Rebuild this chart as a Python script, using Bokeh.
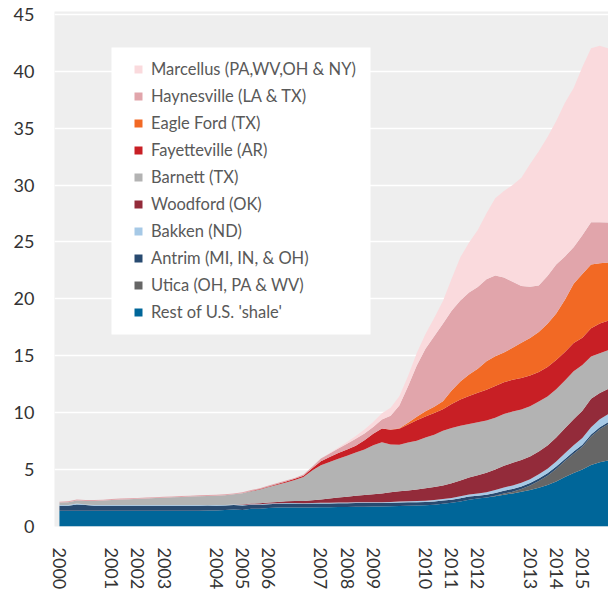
from bokeh.plotting import figure
from bokeh.models import ColumnDataSource, Legend, LegendItem, FixedTicker, Range1d, BoxAnnotation
from bokeh.embed import file_html
from bokeh.resources import INLINE

# x: month index counted from Jan 2000, quarterly samples (Bcf/d)
months = list(range(0, 193, 3))

rest = [1.38, 1.38, 1.38, 1.38, 1.38, 1.38, 1.38, 1.38, 1.38, 1.38, 1.38, 1.38, 1.38, 1.38, 1.38, 1.38,
        1.38, 1.40, 1.40, 1.45, 1.50, 1.45, 1.55, 1.55, 1.62, 1.66, 1.68, 1.68, 1.66, 1.68, 1.70, 1.70,
        1.72, 1.72, 1.74, 1.74, 1.76, 1.76, 1.78, 1.80, 1.82, 1.84, 1.86, 1.92, 2.00, 2.08, 2.20, 2.35,
        2.45, 2.55, 2.65, 2.80, 2.90, 3.05, 3.20, 3.40, 3.65, 3.95, 4.35, 4.70, 5.00, 5.40, 5.65, 5.80, 5.85]
utica = [0.0] * 50 + [0.05, 0.10, 0.15, 0.25, 0.40, 0.60, 0.80, 1.10, 1.40, 1.70, 2.00, 2.50, 2.90, 3.20, 3.30]
antrim = [0.45, 0.45, 0.55, 0.50, 0.45, 0.45, 0.45, 0.45, 0.45, 0.45, 0.45, 0.45, 0.45, 0.45, 0.45, 0.45,
          0.45, 0.44, 0.43, 0.40, 0.38, 0.40, 0.36, 0.36, 0.34, 0.33, 0.33, 0.33, 0.33, 0.33, 0.33, 0.33,
          0.33, 0.33, 0.33, 0.33, 0.30, 0.30, 0.30, 0.30, 0.30, 0.30, 0.30, 0.28, 0.28, 0.28, 0.28, 0.28,
          0.25, 0.25, 0.25, 0.25, 0.25, 0.22, 0.22, 0.22, 0.22, 0.22, 0.18, 0.18, 0.18, 0.18, 0.18, 0.18, 0.18]
bakken = [0.05, 0.05, 0.08, 0.05, 0.05, 0.05, 0.05, 0.05, 0.05, 0.05, 0.05, 0.05, 0.05, 0.05, 0.05, 0.05,
          0.05, 0.05, 0.05, 0.05, 0.05, 0.05, 0.05, 0.05, 0.05, 0.05, 0.05, 0.05, 0.05, 0.05, 0.05, 0.05,
          0.05, 0.05, 0.05, 0.05, 0.06, 0.07, 0.08, 0.09, 0.10, 0.10, 0.11, 0.12, 0.13, 0.15, 0.17, 0.18,
          0.20, 0.22, 0.25, 0.28, 0.30, 0.32, 0.34, 0.36, 0.40, 0.45, 0.50, 0.55, 0.60, 0.65, 0.70, 0.72, 0.72]
woodford = [0.0] * 21 + [0.03, 0.05, 0.08, 0.10, 0.12, 0.15, 0.18, 0.20, 0.25, 0.30, 0.38, 0.45, 0.52, 0.58,
                         0.65, 0.72, 0.78, 0.85, 0.90, 0.95, 1.00, 1.10, 1.15, 1.20, 1.30, 1.40, 1.50, 1.60,
                         1.70, 1.80, 1.90, 2.00, 2.00, 2.00, 2.00, 2.05, 2.10, 2.20, 2.30, 2.40, 2.50, 2.30,
                         2.20, 2.20]
barnett = [0.22, 0.25, 0.28, 0.32, 0.36, 0.40, 0.45, 0.50, 0.52, 0.55, 0.58, 0.62, 0.65, 0.68, 0.72, 0.75,
           0.78, 0.80, 0.82, 0.85, 0.90, 1.00, 1.08, 1.20, 1.35, 1.50, 1.65, 1.85, 2.10, 2.60, 3.00, 3.20,
           3.40, 3.60, 3.80, 4.00, 4.30, 4.50, 4.20, 4.10, 4.20, 4.30, 4.45, 4.60, 4.80, 4.85, 4.80, 4.70,
           4.65, 4.60, 4.55, 4.55, 4.50, 4.45, 4.40, 4.40, 4.30, 4.25, 4.20, 4.20, 4.00, 3.70, 3.50, 3.40, 3.30]
fayetteville = [0.0] * 22 + [0.03, 0.05, 0.06, 0.08, 0.10, 0.10, 0.12, 0.20, 0.35, 0.45, 0.50, 0.55, 0.60,
                             0.80, 1.00, 1.20, 1.30, 1.40, 1.60, 1.80, 1.85, 1.90, 1.90, 2.10, 2.30, 2.45,
                             2.60, 2.70, 2.80, 2.80, 2.80, 2.75, 2.70, 2.60, 2.60, 2.55, 2.50, 2.50, 2.40,
                             2.50, 2.60, 2.60, 2.55]
eagle_ford = [0.0] * 38 + [0.02, 0.05, 0.15, 0.30, 0.45, 0.55, 0.70, 1.20, 1.60, 1.90, 2.10, 2.50, 2.60,
                           2.60, 2.80, 3.10, 3.30, 3.50, 3.80, 4.10, 4.60, 5.20, 5.60, 5.60, 5.30, 5.10, 5.00]
haynesville = [0.08] * 28 + [0.10, 0.15, 0.25, 0.30, 0.40, 0.50, 0.60, 0.60, 0.60, 0.80, 1.20, 2.00, 3.20,
                             4.50, 5.50, 6.20, 6.80, 7.00, 7.10, 7.20, 7.20, 7.20, 7.10, 6.60, 5.80, 5.00,
                             4.50, 4.10, 4.20, 4.30, 3.80, 3.20, 3.40, 3.70, 3.60, 3.50, 3.50]
marcellus = [0.0] * 31 + [0.05, 0.10, 0.15, 0.25, 0.35, 0.45, 0.55, 0.70, 0.80, 0.90, 1.10, 1.30, 1.60, 2.00,
                          2.80, 3.80, 4.40, 5.00, 5.80, 6.80, 7.60, 8.50, 9.50, 10.80, 11.80, 12.20, 12.60,
                          13.50, 14.00, 14.80, 15.30, 15.50, 15.30, 15.00]

series_keys = ["rest", "utica", "antrim", "bakken", "woodford", "barnett",
               "fayetteville", "eagle_ford", "haynesville", "marcellus"]
series_labels = ["Rest of U.S. 'shale'", "Utica (OH, PA & WV)", "Antrim (MI, IN, & OH)", "Bakken (ND)",
                 "Woodford (OK)", "Barnett (TX)", "Fayetteville (AR)", "Eagle Ford (TX)",
                 "Haynesville (LA & TX)", "Marcellus (PA,WV,OH & NY)"]
series_colors = ["#006699", "#666666", "#284a70", "#a6c9e6", "#932b3a", "#b3b3b3",
                 "#c81f25", "#f26924", "#e1a5ab", "#fadadd"]

tick_months = [0, 18, 27, 36, 54, 63, 72, 90, 99, 108, 126, 135, 144, 162, 171, 180]
tick_labels = ["2000", "2001", "2002", "2003", "2004", "2005", "2006", "2007",
               "2008", "2009", "2010", "2011", "2012", "2013", "2014", "2015"]
y_ticks = [0, 5, 10, 15, 20, 25, 30, 35, 40, 45]

source = ColumnDataSource(dict(month=months, rest=rest, utica=utica, antrim=antrim, bakken=bakken,
                               woodford=woodford, barnett=barnett, fayetteville=fayetteville,
                               eagle_ford=eagle_ford, haynesville=haynesville, marcellus=marcellus))

FONT = "Lato"

p = figure(width=608, height=592, output_backend="svg", toolbar_location=None,
           x_range=Range1d(-1.7, 189.0), y_range=Range1d(0, 45.25),
           min_border_left=54, min_border_right=0, min_border_top=11, min_border_bottom=66)
p.background_fill_color = "#eeeeee"
p.border_fill_color = "white"
p.outline_line_color = None

renderers = p.varea_stack(stackers=series_keys, x="month", color=series_colors, source=source)

p.xgrid.grid_line_color = None
p.ygrid.grid_line_color = "white"
p.ygrid.grid_line_width = 1.5
p.ygrid.ticker = FixedTicker(ticks=y_ticks, minor_ticks=[])

for ax in (p.xaxis[0], p.yaxis[0]):
    ax.axis_line_color = None
    ax.major_tick_line_color = None
    ax.minor_tick_line_color = None
    ax.major_tick_out = 0
    ax.major_tick_in = 0
    ax.minor_tick_out = 0
    ax.major_label_text_font = FONT
    ax.major_label_text_color = "#333333"
    ax.major_label_text_font_size = "18px"
    ax.major_label_standoff = 21

p.yaxis.ticker = FixedTicker(ticks=y_ticks, minor_ticks=[])
p.xaxis.ticker = FixedTicker(ticks=tick_months, minor_ticks=[])
p.xaxis.major_label_overrides = {m: lab for m, lab in zip(tick_months, tick_labels)}
p.xaxis.major_label_orientation = "vertical"
p.yaxis.major_label_standoff = 20

# white panel behind the legend (canvas pixels)
legend_panel = BoxAnnotation(left=111, right=370, top=47, bottom=334,
                             left_units="canvas", right_units="canvas",
                             top_units="canvas", bottom_units="canvas",
                             fill_color="white", fill_alpha=1.0, line_color=None)
p.add_layout(legend_panel)

items = [LegendItem(label=lab, renderers=[r]) for lab, r in zip(series_labels, renderers)][::-1]
legend = Legend(items=items, location=(79, 204))
legend.background_fill_alpha = 0.0
legend.border_line_color = None
legend.label_text_font = FONT
legend.label_text_font_size = "16.5px"
legend.label_text_color = "#595959"
legend.glyph_width = 10
legend.glyph_height = 10
legend.label_height = 20
legend.label_standoff = 8
legend.spacing = 7
legend.padding = 12
legend.margin = 0
p.add_layout(legend)

open("out.html", "w").write(file_html(p, INLINE))
